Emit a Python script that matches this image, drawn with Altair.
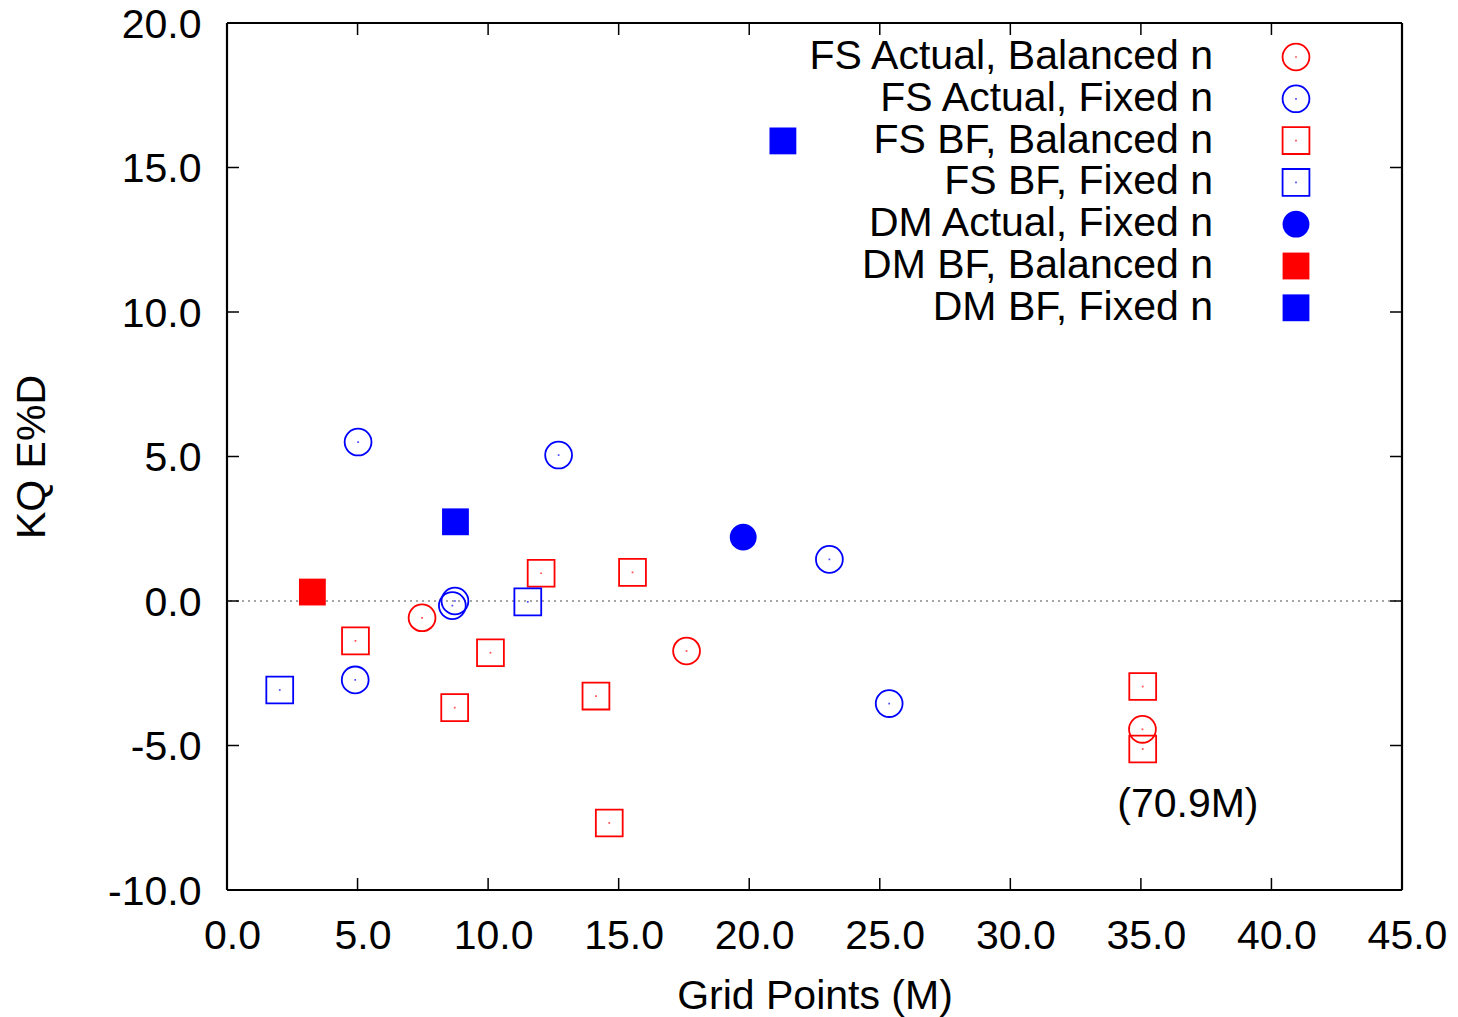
import altair as alt
import pandas as pd

FONT = "Liberation Sans"
FS = 41
RED = "#ff0000"
BLUE = "#0000ff"

# ---- data ----
fs_act_bal_x = [7.47, 17.6, 35.06]
fs_act_bal_y = [-0.58, -1.73, -4.44]

fs_act_fix_x = [5.02, 12.70, 8.73, 8.63, 23.07, 4.91, 25.36]
fs_act_fix_y = [5.50, 5.05, 0.00, -0.16, 1.44, -2.73, -3.55]

fs_bf_bal_x = [4.92, 12.03, 15.53, 10.09, 8.72, 14.13, 14.64, 35.07, 35.07]
fs_bf_bal_y = [-1.38, 0.96, 0.99, -1.79, -3.69, -3.29, -7.68, -2.96, -5.12]

fs_bf_fix_x = [2.02, 11.52]
fs_bf_fix_y = [-3.08, -0.03]

dm_act_fix_x = [19.77]
dm_act_fix_y = [2.21]

dm_bf_bal_x = [3.27]
dm_bf_bal_y = [0.31]

dm_bf_fix_x = [8.75, 21.29]
dm_bf_fix_y = [2.74, 15.92]

series_names = [
    "FS Actual, Balanced n",
    "FS Actual, Fixed n",
    "FS BF, Balanced n",
    "FS BF, Fixed n",
    "DM Actual, Fixed n",
    "DM BF, Balanced n",
    "DM BF, Fixed n",
]
series_shapes = ["circle", "circle", "square", "square", "circle", "square", "square"]
series_colors = [RED, BLUE, RED, BLUE, BLUE, RED, BLUE]
series_filled = [False, False, False, False, True, True, True]
series_x = [fs_act_bal_x, fs_act_fix_x, fs_bf_bal_x, fs_bf_fix_x, dm_act_fix_x, dm_bf_bal_x, dm_bf_fix_x]
series_y = [fs_act_bal_y, fs_act_fix_y, fs_bf_bal_y, fs_bf_fix_y, dm_act_fix_y, dm_bf_bal_y, dm_bf_fix_y]

x_ticks = [0, 5, 10, 15, 20, 25, 30, 35, 40, 45]
y_ticks = [-10, -5, 0, 5, 10, 15, 20]

annot_text = ["(70.9M)"]
annot_x = [36.8]
annot_y = [-7.05]

# ---- build tables ----
rows = []
for name, shp, col, fil, xs_, ys_ in zip(series_names, series_shapes, series_colors,
                                          series_filled, series_x, series_y):
    for xv, yv in zip(xs_, ys_):
        rows.append(dict(x=xv, y=yv, series=name, shape=shp, color=col, filled=fil))
df = pd.DataFrame(rows)

leg = pd.DataFrame(dict(label=series_names, shape=series_shapes, color=series_colors,
                        filled=series_filled, idx=list(range(len(series_names)))))

W, H = 1175, 867
TICK = 12

xs = alt.Scale(domain=[0, 45], nice=False, zero=False)
ys = alt.Scale(domain=[-10, 20], nice=False, zero=False)

LBL = "replace(format(datum.value, '.1f'), '\u2212', '-')"
x_axis = alt.Axis(values=x_ticks, labelExpr=LBL, labelFlush=False, labelOverlap=False,
                  labelBound=False, labelOffset=5,
                  ticks=False, domain=False, grid=False, labelFont=FONT, labelFontSize=FS,
                  labelPadding=26, labelColor="black", title="Grid Points (M)", titleFont=FONT,
                  titleFontSize=FS, titleFontWeight="normal", titleColor="black", titlePadding=20)
y_axis = alt.Axis(values=y_ticks, labelExpr=LBL, labelFlush=False, labelOverlap=False,
                  labelBound=False, labelOffset=2,
                  ticks=False, domain=False, grid=False, labelFont=FONT, labelFontSize=FS,
                  labelPadding=26, labelColor="black", title="KQ E%D", titleFont=FONT,
                  titleFontSize=FS, titleFontWeight="normal", titleColor="black", titlePadding=54)

base = alt.Chart(df)

zero_line = alt.Chart(pd.DataFrame({"y": [0]})).mark_rule(
    color="#888888", strokeDash=[2, 4], strokeWidth=1.5
).encode(y=alt.Y("y:Q", scale=ys, axis=y_axis))

open_pts = base.transform_filter("!datum.filled").mark_point(
    filled=False, size=720, strokeWidth=1.8, opacity=1
).encode(
    x=alt.X("x:Q", scale=xs, axis=x_axis),
    y=alt.Y("y:Q", scale=ys, axis=y_axis),
    shape=alt.Shape("shape:N", scale=None),
    stroke=alt.Stroke("color:N", scale=None),
)

filled_pts = base.transform_filter("datum.filled").mark_point(
    filled=True, size=720, opacity=1
).encode(
    x=alt.X("x:Q", scale=xs),
    y=alt.Y("y:Q", scale=ys),
    shape=alt.Shape("shape:N", scale=None),
    fill=alt.Fill("color:N", scale=None),
)

dots = base.transform_filter("!datum.filled").mark_point(
    filled=True, size=3, opacity=0.7, shape="square"
).encode(
    x=alt.X("x:Q", scale=xs),
    y=alt.Y("y:Q", scale=ys),
    fill=alt.Fill("color:N", scale=None),
)

annot = alt.Chart(pd.DataFrame(dict(t=annot_text, x=annot_x, y=annot_y))).mark_text(
    font=FONT, fontSize=FS, color="black", align="center", baseline="middle"
).encode(x=alt.X("x:Q", scale=xs), y=alt.Y("y:Q", scale=ys), text="t:N")

# tick marks (inward, all four sides)
xt = pd.DataFrame({"v": x_ticks})
yt = pd.DataFrame({"v": y_ticks})
tick_bottom = alt.Chart(xt).mark_rule(color="black", strokeWidth=1.5).encode(
    x=alt.X("v:Q", scale=xs), y=alt.value(H - TICK), y2=alt.value(H))
tick_top = alt.Chart(xt).mark_rule(color="black", strokeWidth=1.5).encode(
    x=alt.X("v:Q", scale=xs), y=alt.value(0), y2=alt.value(TICK))
tick_left = alt.Chart(yt).mark_rule(color="black", strokeWidth=1.5).encode(
    y=alt.Y("v:Q", scale=ys), x=alt.value(0), x2=alt.value(TICK))
tick_right = alt.Chart(yt).mark_rule(color="black", strokeWidth=1.5).encode(
    y=alt.Y("v:Q", scale=ys), x=alt.value(W - TICK), x2=alt.value(W))

# plot border
border_df = pd.DataFrame({"k": [0]})
b_left = alt.Chart(border_df).mark_rule(color="black", strokeWidth=2.2).encode(
    x=alt.value(0), y=alt.value(0), y2=alt.value(H))
b_right = alt.Chart(border_df).mark_rule(color="black", strokeWidth=2.2).encode(
    x=alt.value(W), y=alt.value(0), y2=alt.value(H))
b_top = alt.Chart(border_df).mark_rule(color="black", strokeWidth=2.2).encode(
    y=alt.value(0), x=alt.value(0), x2=alt.value(W))
b_bottom = alt.Chart(border_df).mark_rule(color="black", strokeWidth=2.2).encode(
    y=alt.value(H), x=alt.value(0), x2=alt.value(W))

# manual legend: labels right-aligned, symbols to the right
leg_base = alt.Chart(leg).transform_calculate(ly="34 + datum.idx * 41.8")
leg_text = leg_base.mark_text(font=FONT, fontSize=FS, color="black", align="right",
                              baseline="middle").encode(
    x=alt.value(986), y=alt.Y("ly:Q", scale=None), text="label:N")
leg_open = leg_base.transform_filter("!datum.filled").mark_point(
    filled=False, size=720, strokeWidth=1.8, opacity=1).encode(
    x=alt.value(1069), y=alt.Y("ly:Q", scale=None),
    shape=alt.Shape("shape:N", scale=None), stroke=alt.Stroke("color:N", scale=None))
leg_filled = leg_base.transform_filter("datum.filled").mark_point(
    filled=True, size=720, opacity=1).encode(
    x=alt.value(1069), y=alt.Y("ly:Q", scale=None),
    shape=alt.Shape("shape:N", scale=None), fill=alt.Fill("color:N", scale=None))
leg_dots = leg_base.transform_filter("!datum.filled").mark_point(
    filled=True, size=3, opacity=0.7, shape="square").encode(
    x=alt.value(1069), y=alt.Y("ly:Q", scale=None), fill=alt.Fill("color:N", scale=None))

chart = alt.layer(
    zero_line, open_pts, filled_pts, dots, annot,
    tick_bottom, tick_top, tick_left, tick_right,
    b_left, b_right, b_top, b_bottom,
    leg_text, leg_open, leg_filled, leg_dots,
).properties(
    width=W, height=H,
    autosize=alt.AutoSizeParams(type="none"),
    padding={"left": 219, "top": 15, "right": 48, "bottom": 127},
).configure_view(
    stroke=None
).configure(background="white")

chart.save("out.html", embed_options={"renderer": "svg", "actions": False})
